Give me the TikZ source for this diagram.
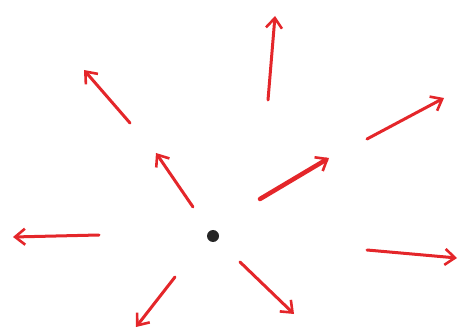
\documentclass[tikz,border=0pt]{standalone}
\usetikzlibrary{arrows.meta}
\definecolor{pen}{RGB}{228,38,42}
\begin{document}
\begin{tikzpicture}[x=1pt,y=-1pt,
  ray/.style={draw=pen,line width=3pt,line cap=round,-{Straight Barb[length=10pt,width=16pt,line width=2.6pt]}},
  dot/.style={circle,fill=black!85,inner sep=0pt,minimum size=12pt}]
\useasboundingbox (0,0) rectangle (462,336);
\node[dot] (c) at (213,236) {};
\coordinate (s1) at (268,100); \coordinate (e1) at (275,16);
\coordinate (s2) at (130,123); \coordinate (e2) at (84,70);
\coordinate (s3) at (367,139); \coordinate (e3) at (444,98);
\coordinate (s4) at (193,207); \coordinate (e4) at (156,153);
\coordinate (s5) at (260,199); \coordinate (e5) at (329,158);
\coordinate (s6) at (99,235);  \coordinate (e6) at (13,237);
\coordinate (s7) at (367,250); \coordinate (e7) at (457,258);
\coordinate (s8) at (175,277); \coordinate (e8) at (136,327);
\coordinate (s9) at (240,262); \coordinate (e9) at (294,314);
\foreach \i in {1,2,3,4,6,7,8,9} {\draw[ray] (s\i) -- (e\i);}
\draw[ray,line width=4.5pt] (s5) -- (e5);
\end{tikzpicture}
\end{document}
